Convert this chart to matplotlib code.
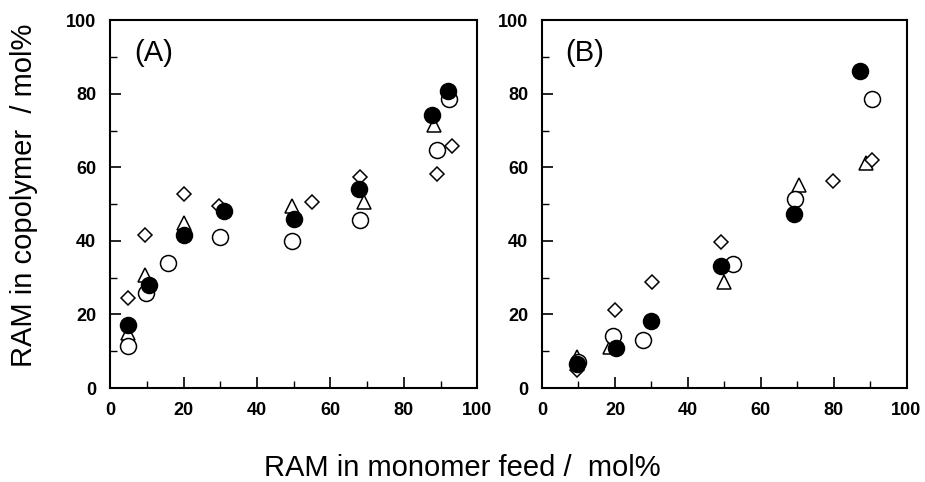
import matplotlib
matplotlib.use("Agg")
import matplotlib.pyplot as plt
from matplotlib.ticker import MultipleLocator

plt.rcParams['font.family'] = ['Liberation Sans', 'DejaVu Sans']

# panel A data (RAM in feed, RAM in copolymer)
a_filled_x = [4.8, 10.5, 20, 30.9, 50, 67.7, 87.8, 91.9]
a_filled_y = [17.1, 28, 41.5, 48.2, 46, 54.2, 74.1, 80.7]
a_open_x = [4.8, 9.7, 15.8, 29.9, 49.5, 68, 89, 92.3]
a_open_y = [11.4, 25.9, 34.1, 41.1, 40, 45.7, 64.8, 78.6]
a_tri_x = [4.8, 9.5, 20, 49.5, 69.2, 88.3]
a_tri_y = [15, 30.7, 45, 49.4, 50.7, 71.6]
a_dia_x = [4.8, 9.6, 20, 29.7, 55.1, 68, 89, 93.2]
a_dia_y = [24.4, 41.5, 52.7, 49.5, 50.5, 57.3, 58.3, 65.9]

# panel B data
b_filled_x = [9.5, 20.4, 30, 49.2, 69, 87.2]
b_filled_y = [6.4, 11, 18.2, 33.3, 47.2, 86.2]
b_open_x = [10, 19.5, 27.6, 52.5, 69.3, 90.6]
b_open_y = [7.1, 14.1, 13, 33.6, 51.5, 78.6]
b_tri_x = [9.5, 18.6, 50, 70.4, 89]
b_tri_y = [8.5, 11.2, 28.9, 55.3, 61.2]
b_dia_x = [9.5, 20, 30.1, 49.2, 79.9, 90.6]
b_dia_y = [5, 21.2, 28.9, 39.8, 56.2, 61.9]

ticks = [0, 20, 40, 60, 80, 100]


def draw_panel(ax, tag, filled, opn, tri, dia):
    ax.plot(*tri, linestyle='none', marker='^', ms=10.5, mfc='white', mec='black', mew=1.1)
    ax.plot(*opn, linestyle='none', marker='o', ms=11.5, mfc='white', mec='black', mew=1.1)
    ax.plot(*dia, linestyle='none', marker='D', ms=7.5, mfc='white', mec='black', mew=1.1)
    ax.plot(*filled, linestyle='none', marker='o', ms=11.5, mfc='black', mec='black', mew=1.1)

    ax.set_xlim(0, 100)
    ax.set_ylim(0, 100)
    ax.set_xticks(ticks)
    ax.set_yticks(ticks)
    ax.xaxis.set_minor_locator(MultipleLocator(10))
    ax.yaxis.set_minor_locator(MultipleLocator(10))
    ax.tick_params(which='both', direction='in', top=False, right=False)
    ax.tick_params(which='major', length=8, width=1.2, pad=10)
    ax.tick_params(which='minor', length=5, width=1)
    for lbl in ax.get_xticklabels() + ax.get_yticklabels():
        lbl.set_fontweight('bold')
        lbl.set_fontsize(13)
    for sp in ax.spines.values():
        sp.set_linewidth(1.5)
    ax.text(0.065, 0.95, tag, transform=ax.transAxes, fontsize=21,
            ha='left', va='top')


fig = plt.figure(figsize=(9.25, 4.82), dpi=100)
ax_a = fig.add_axes([0.119, 0.195, 0.397, 0.763])
ax_b = fig.add_axes([0.586, 0.195, 0.394, 0.763])

draw_panel(ax_a, '(A)', (a_filled_x, a_filled_y), (a_open_x, a_open_y),
           (a_tri_x, a_tri_y), (a_dia_x, a_dia_y))
draw_panel(ax_b, '(B)', (b_filled_x, b_filled_y), (b_open_x, b_open_y),
           (b_tri_x, b_tri_y), (b_dia_x, b_dia_y))

fig.text(0.026, 0.595, 'RAM in copolymer  / mol%', rotation=90,
         ha='center', va='center', fontsize=21)
fig.text(0.50, 0.03, 'RAM in monomer feed /  mol%', ha='center',
         va='center', fontsize=21)

fig.savefig('out.png', dpi=100)
plt.close()
